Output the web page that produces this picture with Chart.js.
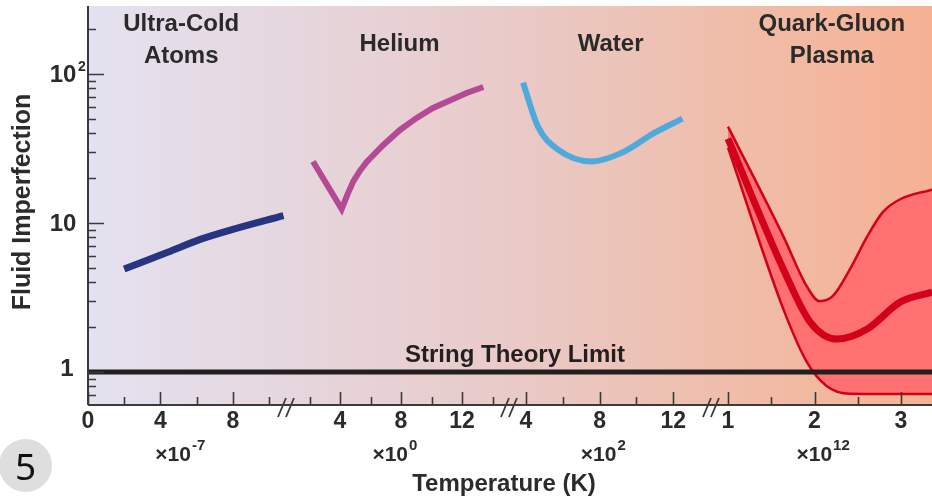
<!DOCTYPE html>
<html>
<head>
<meta charset="utf-8">
<script src="https://cdn.jsdelivr.net/npm/chart.js@4.4.1/dist/chart.umd.min.js"></script>
<style>
body{margin:0;background:#fff;}
#wrap{position:relative;width:932px;height:498px;overflow:hidden;}
#badge{position:absolute;left:-1px;top:439px;width:53px;height:53px;border-radius:50%;background:#dedede;
 font:37px "Noto Sans",sans-serif;color:#111;text-align:center;line-height:53px;}
</style>
</head>
<body>
<div id="wrap"><canvas id="c" width="932" height="498"></canvas><div id="badge">5</div></div>
<script>
// broken temperature axis: four pieces, each with its own power of ten
var segPowers=['-7','0','2','12'];
var segTicks=[[0,4,8],[4,8,12],[4,8,12],[1,2,3]];
var segMinor=[[2,6,10],[2,6,10,14],[6,10],[1.5,2.5]];
var regionNames=[['Ultra-Cold','Atoms'],['Helium'],['Water'],['Quark-Gluon','Plasma']];

var coldT=[2.0,4.4,6.2,8.0,10.8];
var coldEta=[4.9,6.35,7.75,9.05,11.2];
var heliumT=[2.23,4.11,4.5,4.87,5.3,5.75,6.84,7.93,9.03,10.1,11.2,12.3,13.4];
var heliumEta=[25.8,12.4,15.6,19.0,22.3,25.6,33.3,42.0,50.6,59.0,66.3,74.3,81.5];
var waterT=[3.84,4.65,5.74,7.59,9.22,11.0,12.5];
var waterEta=[87.1,44.2,31.0,25.8,29.6,40.3,50.0];
var qgpHighT=[1.0,1.64,1.91,2.06,2.21,2.41,2.61,2.79,2.99,3.36];
var qgpHigh=[44.2,8.12,3.76,2.98,3.22,4.89,8.12,11.8,14.4,16.7];
var qgpMidT=[1.0,1.64,1.95,2.26,2.61,2.99,3.36];
var qgpMid=[36.7,4.89,2.16,1.66,1.94,2.94,3.43];
var qgpLowT=[1.0,1.64,1.91,2.14,2.41,2.8,3.36];
var qgpLow=[32.0,2.64,1.17,0.806,0.713,0.71,0.71];
var stringLimit=1;

// where each piece sits on the shared x scale
var segStart=[0,252,438,640];
var segRef=[0,4,4,1];
var segScale=[18.1,15.25,18.4,86.5];
var breakAt=[200,423,625];
var X_MIN=0,X_MAX=844;

function toX(seg,t){return segStart[seg]+(t-segRef[seg])*segScale[seg];}
function pts(seg,ts,ys){return ts.map(function(t,i){return {x:toX(seg,t),y:ys[i]};});}

var FONT='"Liberation Sans", Arial, sans-serif';

var axesPlugin={
  id:'axes',
  beforeDraw:function(chart){
    var ctx=chart.ctx,a=chart.chartArea;
    var g=ctx.createLinearGradient(a.left,0,a.right,0);
    g.addColorStop(0,'#e4e2f0');
    g.addColorStop(0.25,'#e6d6dd');
    g.addColorStop(0.5,'#e9cac8');
    g.addColorStop(0.75,'#efbeab');
    g.addColorStop(1,'#f6b193');
    ctx.save();ctx.fillStyle=g;
    ctx.fillRect(a.left,a.top,a.right-a.left,a.bottom-a.top);
    ctx.restore();
  },
  afterDatasetsDraw:function(chart){
    var ctx=chart.ctx,a=chart.chartArea;
    var xs=chart.scales.x,ys=chart.scales.y;
    ctx.save();
    ctx.strokeStyle='#3a3a3a';ctx.fillStyle='#2b2b2b';
    ctx.lineWidth=2;
    ctx.beginPath();
    ctx.moveTo(a.left,a.top);ctx.lineTo(a.left,a.bottom);
    ctx.moveTo(a.left,a.bottom);ctx.lineTo(a.right,a.bottom);
    ctx.stroke();
    // y ticks (inside)
    ctx.lineWidth=1.6;
    ctx.beginPath();
    [1,10,100].forEach(function(v){var y=Math.round(ys.getPixelForValue(v))+0.5;ctx.moveTo(a.left,y);ctx.lineTo(a.left+16,y);});
    var minors=[0.7,0.8,0.9,2,3,4,5,6,7,8,9,20,30,40,50,60,70,80,90,200];
    minors.forEach(function(v){var y=Math.round(ys.getPixelForValue(v))+0.5;ctx.moveTo(a.left,y);ctx.lineTo(a.left+8,y);});
    // x ticks
    segTicks.forEach(function(list,s){list.forEach(function(t){var x=Math.round(xs.getPixelForValue(toX(s,t)))+0.5;ctx.moveTo(x,a.bottom);ctx.lineTo(x,a.bottom-13);});});
    segMinor.forEach(function(list,s){list.forEach(function(t){var x=Math.round(xs.getPixelForValue(toX(s,t)))+0.5;ctx.moveTo(x,a.bottom);ctx.lineTo(x,a.bottom-8);});});
    ctx.stroke();
    // axis breaks
    ctx.lineWidth=1.8;
    ctx.beginPath();
    breakAt.forEach(function(u){var x=xs.getPixelForValue(u);
      ctx.moveTo(x-10,a.bottom+12);ctx.lineTo(x-2,a.bottom-7);
      ctx.moveTo(x-2,a.bottom+12);ctx.lineTo(x+6,a.bottom-7);});
    ctx.stroke();

    // y labels
    ctx.textAlign='center';ctx.textBaseline='alphabetic';
    ctx.font='bold 24px '+FONT;
    ctx.fillText('1',67,ys.getPixelForValue(1)+4);
    ctx.fillText('10',63,ys.getPixelForValue(10)+8);
    ctx.fillText('10',63,ys.getPixelForValue(100)+8);
    ctx.font='bold 14px '+FONT;
    ctx.fillText('2',82,ys.getPixelForValue(100)-3);

    // x tick labels
    ctx.font='bold 23px '+FONT;
    segTicks.forEach(function(list,s){list.forEach(function(t){ctx.fillText(String(t),xs.getPixelForValue(toX(s,t)),428);});});

    // multipliers
    var multAt=[5.1,7.6,8.2,2.1];
    segPowers.forEach(function(p,s){
      var cx=xs.getPixelForValue(toX(s,multAt[s]));
      ctx.font='bold 21px '+FONT;var w1=ctx.measureText('×10').width;
      ctx.font='bold 15px '+FONT;var w2=ctx.measureText(p).width;
      var x0=cx-(w1+w2+1)/2;
      ctx.textAlign='left';
      ctx.font='bold 21px '+FONT;ctx.fillText('×10',x0,461);
      ctx.font='bold 15px '+FONT;ctx.fillText(p,x0+w1+1,450);
      ctx.textAlign='center';
    });

    // axis titles
    ctx.font='bold 24px '+FONT;
    ctx.fillText('Temperature (K)',504,491);
    ctx.save();
    ctx.translate(30,202);ctx.rotate(-Math.PI/2);
    ctx.font='bold 25px '+FONT;
    ctx.fillText('Fluid Imperfection',0,0);
    ctx.restore();

    // region names
    ctx.fillStyle='#2a2a2a';
    ctx.font='bold 24px '+FONT;
    var nameAt=[[0,5.15],[1,7.9],[2,8.6],[3,2.2]];
    regionNames.forEach(function(lines,i){
      var x=xs.getPixelForValue(toX(nameAt[i][0],nameAt[i][1]));
      if(lines.length===2){ctx.fillText(lines[0],x,31);ctx.fillText(lines[1],x,63);}
      else ctx.fillText(lines[0],x,51);
    });
    ctx.fillStyle='#231f20';
    ctx.fillText('String Theory Limit',515,ys.getPixelForValue(stringLimit)-10);
    ctx.restore();
  }
};

var red='#d2001a';
new Chart(document.getElementById('c'),{
  type:'line',
  data:{datasets:[
    {label:'String Theory Limit',data:[{x:X_MIN,y:stringLimit},{x:X_MAX,y:stringLimit}],borderColor:'#231f20',borderWidth:5,order:0,tension:0},
    {label:'Quark-Gluon Plasma',data:pts(3,qgpMidT,qgpMid),borderColor:red,borderWidth:7,order:1,cubicInterpolationMode:'monotone'},
    {label:'QGP upper',data:pts(3,qgpHighT,qgpHigh),borderColor:red,borderWidth:2.5,order:2,cubicInterpolationMode:'monotone',fill:3,backgroundColor:'#ff7070'},
    {label:'QGP lower',data:pts(3,qgpLowT,qgpLow),borderColor:red,borderWidth:2.5,order:3,cubicInterpolationMode:'monotone'},
    {label:'Ultra-Cold Atoms',data:pts(0,coldT,coldEta),borderColor:'#263482',borderWidth:7,order:4,cubicInterpolationMode:'monotone'},
    {label:'Helium',data:pts(1,heliumT,heliumEta),borderColor:'#b34a93',borderWidth:6,order:5,tension:0},
    {label:'Water',data:pts(2,waterT,waterEta),borderColor:'#4eaadc',borderWidth:6,order:6,cubicInterpolationMode:'monotone'}
  ]},
  options:{
    responsive:false,animation:false,devicePixelRatio:1,
    layout:{padding:{left:88,top:6,right:0,bottom:93}},
    elements:{point:{radius:0},line:{fill:false,borderJoinStyle:'miter'}},
    scales:{
      x:{type:'linear',min:X_MIN,max:X_MAX,display:false},
      y:{type:'logarithmic',min:0.611,max:285,display:false}
    },
    plugins:{legend:{display:false},tooltip:{enabled:false},filler:{drawTime:'beforeDatasetsDraw'}}
  },
  plugins:[axesPlugin]
});
</script>
</body>
</html>
